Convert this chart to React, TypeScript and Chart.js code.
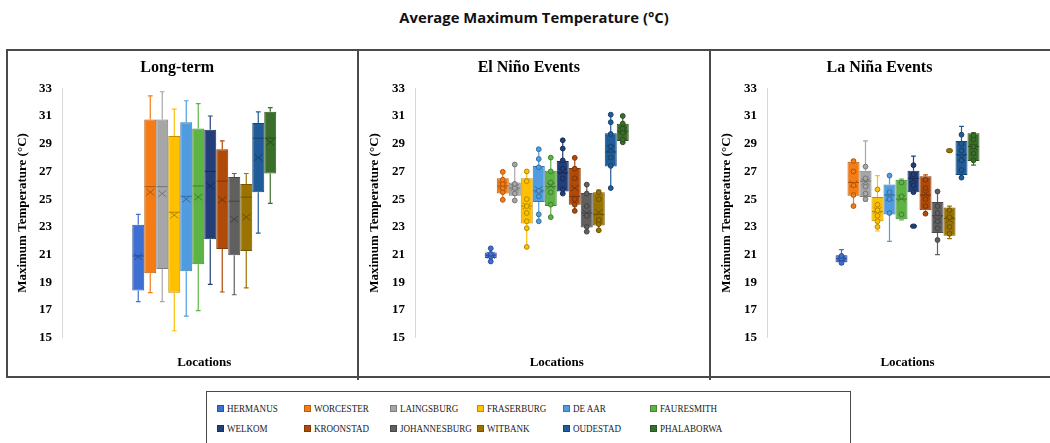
import React, { useEffect, useRef } from "react";
import { Chart, registerables } from "chart.js";

Chart.register(...registerables);

// ---------- data ----------
const LOCATIONS = [
  "HERMANUS", "WORCESTER", "LAINGSBURG", "FRASERBURG", "DE AAR", "FAURESMITH",
  "WELKOM", "KROONSTAD", "JOHANNESBURG", "WITBANK", "OUDESTAD", "PHALABORWA",
];
const COLORS = [
  "#3E6FD2", "#F57C14", "#A6A6A6", "#FFC000", "#4F9DE0", "#5DB445",
  "#223F7A", "#B04A08", "#606060", "#9A7300", "#1F5C99", "#3C6E2B",
];
const Y_TICK_MIN = 15;
const Y_TICK_MAX = 33;
const Y_TICK_STEP = 2;

// Long-term
const LT_MIN = [17.6, 18.25, 17.6, 15.5, 16.55, 16.95, 18.85, 18.3, 18.1, 18.6, 22.55, 24.7];
const LT_Q1 = [18.4, 19.65, 19.95, 18.25, 19.8, 20.3, 22.1, 21.4, 20.95, 21.25, 25.5, 26.85];
const LT_MED = [20.9, 25.9, 25.9, 24.05, 25.2, 25.95, 27.0, 26.3, 24.85, 25.15, 29.4, 29.4];
const LT_Q3 = [23.15, 30.75, 30.75, 29.55, 30.55, 30.1, 30.0, 28.6, 26.6, 26.1, 30.5, 31.3];
const LT_MAX = [23.9, 32.45, 32.75, 31.5, 32.1, 31.9, 31.0, 29.2, 26.85, 26.85, 31.3, 31.6];
const LT_MEAN = [20.85, 25.5, 25.4, 23.85, 25.0, 25.15, 25.95, 24.95, 23.55, 23.7, 28.0, 29.1];

// El Niño events
const EN_MIN = [20.5, 24.95, 24.9, 21.55, 23.4, 23.7, 25.4, 24.15, 22.65, 22.75, 25.8, 29.1];
const EN_Q1 = [20.75, 25.4, 25.25, 23.25, 24.8, 24.5, 25.55, 24.6, 22.95, 23.1, 27.35, 29.2];
const EN_MED = [20.95, 25.95, 25.8, 24.5, 25.6, 25.9, 26.9, 25.2, 24.0, 23.9, 28.4, 29.9];
const EN_Q3 = [21.15, 26.5, 26.2, 26.5, 27.4, 27.05, 27.75, 27.25, 25.45, 25.5, 29.75, 30.45];
const EN_MAX = [21.45, 26.97, 27.5, 27.0, 28.6, 28.0, 29.25, 27.98, 26.05, 25.65, 31.1, 31.0];
const EN_MEAN = [20.95, 26.0, 25.85, 24.5, 25.7, 25.95, 27.0, 25.8, 24.0, 24.05, 28.65, 29.95];
const EN_POINTS = [
  [20.5, 20.85, 21.05, 21.45],
  [24.95, 25.5, 25.8, 26.1, 26.4, 26.97],
  [24.9, 25.4, 25.8, 26.1, 27.5],
  [21.55, 22.9, 23.4, 24.0, 24.5, 25.0, 26.3, 27.0],
  [23.4, 23.9, 25.2, 25.6, 27.3, 27.9, 28.6],
  [23.7, 24.6, 25.5, 26.2, 27.0, 28.0],
  [25.4, 25.7, 26.5, 27.2, 27.8, 28.65, 29.25],
  [24.15, 24.6, 25.0, 26.5, 27.2, 27.98],
  [22.65, 23.0, 23.8, 24.5, 25.4, 26.05],
  [22.75, 23.2, 23.5, 25.0, 25.5],
  [25.8, 27.4, 28.0, 28.8, 29.7, 30.55, 31.1],
  [29.1, 29.3, 29.8, 30.1, 30.45, 31.0],
];
const EN_OUTLIERS: number[][] = [[], [], [], [], [], [], [], [], [], [], [], []];

// La Niña events
const LN_MIN = [20.3, 24.5, 24.85, 22.7, 21.95, 23.5, 25.45, 23.9, 21.0, 22.15, 26.5, 27.45];
const LN_Q1 = [20.45, 25.25, 25.15, 23.4, 23.9, 23.55, 25.5, 24.2, 22.55, 22.35, 26.75, 27.75];
const LN_MED = [20.7, 26.2, 26.3, 24.1, 25.3, 25.0, 26.5, 25.3, 23.8, 23.6, 28.2, 28.8];
const LN_Q3 = [20.95, 27.7, 27.05, 25.15, 26.05, 26.4, 27.05, 26.65, 24.8, 24.4, 29.2, 29.75];
const LN_MAX = [21.35, 27.8, 29.2, 26.7, 26.7, 26.45, 28.1, 26.75, 25.55, 24.5, 30.25, 29.8];
const LN_MEAN = [20.7, 26.1, 26.25, 24.2, 25.1, 25.05, 26.4, 25.4, 23.5, 23.5, 28.0, 28.75];
const LN_POINTS = [
  [20.4, 20.7, 20.9],
  [24.5, 25.3, 26.0, 27.0, 27.75],
  [25.0, 25.4, 25.9, 26.5, 27.35],
  [23.0, 23.4, 23.8, 24.2, 24.6, 25.7],
  [24.0, 25.0, 25.5, 26.7],
  [23.9, 25.2, 26.2],
  [25.5, 26.0, 26.8, 27.45],
  [23.95, 24.5, 25.0, 25.8, 26.4],
  [22.05, 22.9, 23.4, 24.0, 24.5, 25.55],
  [22.5, 23.0, 23.7, 24.2],
  [26.55, 27.1, 27.8, 28.5, 29.0, 29.65],
  [27.8, 28.3, 28.8, 29.3, 29.6],
];
const LN_OUTLIERS = [[], [], [], [], [], [], [23.05], [], [], [28.5], [], []];

// ---------- helpers ----------
const SERIF = '"Liberation Serif", "Times New Roman", serif';

function shade(hex: string, f: number) {
  const n = parseInt(hex.slice(1), 16);
  const r = Math.round(((n >> 16) & 255) * (1 - f));
  const g = Math.round(((n >> 8) & 255) * (1 - f));
  const b = Math.round((n & 255) * (1 - f));
  return `rgb(${r},${g},${b})`;
}

type Stats = {
  min: number[]; q1: number[]; med: number[]; q3: number[]; max: number[]; mean: number[];
  points?: number[][]; outliers?: number[][];
};

type Panel = {
  title: string;
  stats: Stats;
  left: number; width: number; axis: number; plotRight: number; yTitlePad: number;
};

function makeBoxPlugin(s: Stats) {
  return {
    id: "boxExtras",
    beforeDatasetsDraw(chart: any) {
      const ctx = chart.ctx;
      const ys = chart.scales.y;
      chart.data.datasets.forEach((_ds: any, i: number) => {
        const el = chart.getDatasetMeta(i).data[0];
        if (!el) return;
        const x = el.x;
        const w = el.width;
        const yMin = ys.getPixelForValue(s.min[i]);
        const yMax = ys.getPixelForValue(s.max[i]);
        const yQ1 = ys.getPixelForValue(s.q1[i]);
        const yQ3 = ys.getPixelForValue(s.q3[i]);
        const c = w * 0.2;
        ctx.save();
        ctx.strokeStyle = COLORS[i];
        ctx.lineWidth = 1.2;
        ctx.beginPath();
        ctx.moveTo(x, yQ3); ctx.lineTo(x, yMax);
        ctx.moveTo(x, yQ1); ctx.lineTo(x, yMin);
        ctx.moveTo(x - c, yMax); ctx.lineTo(x + c, yMax);
        ctx.moveTo(x - c, yMin); ctx.lineTo(x + c, yMin);
        ctx.stroke();
        ctx.restore();
      });
    },
    afterDatasetsDraw(chart: any) {
      const ctx = chart.ctx;
      const ys = chart.scales.y;
      chart.data.datasets.forEach((_ds: any, i: number) => {
        const el = chart.getDatasetMeta(i).data[0];
        if (!el) return;
        const x = el.x;
        const w = el.width;
        const dark = shade(COLORS[i], 0.3);
        ctx.save();
        ctx.strokeStyle = dark;
        ctx.lineWidth = 1;
        // median
        const yMed = ys.getPixelForValue(s.med[i]);
        ctx.beginPath();
        ctx.moveTo(x - w / 2 + 0.5, yMed);
        ctx.lineTo(x + w / 2 - 0.5, yMed);
        ctx.stroke();
        // mean X
        const yMean = ys.getPixelForValue(s.mean[i]);
        const hx = Math.min(4, w * 0.36);
        const hy = 3.2;
        ctx.beginPath();
        ctx.moveTo(x - hx, yMean - hy); ctx.lineTo(x + hx, yMean + hy);
        ctx.moveTo(x + hx, yMean - hy); ctx.lineTo(x - hx, yMean + hy);
        ctx.stroke();
        // inner points
        const pts = s.points ? s.points[i] : [];
        pts.forEach((v) => {
          const py = ys.getPixelForValue(v);
          ctx.beginPath();
          ctx.arc(x, py, 2.4, 0, Math.PI * 2);
          ctx.fillStyle = COLORS[i];
          ctx.fill();
          ctx.strokeStyle = dark;
          ctx.stroke();
        });
        // outliers
        const outs = s.outliers ? s.outliers[i] : [];
        outs.forEach((v) => {
          const py = ys.getPixelForValue(v);
          ctx.beginPath();
          ctx.ellipse(x, py, 3, 2.2, 0, 0, Math.PI * 2);
          ctx.fillStyle = COLORS[i];
          ctx.fill();
          ctx.strokeStyle = dark;
          ctx.stroke();
        });
        ctx.restore();
      });
    },
  };
}

const CANVAS_TOP = 51;
const CANVAS_H = 327;
const PLOT_TOP = 88.3;
const PLOT_BOTTOM = 337.7;

function buildConfig(p: Panel): any {
  const s = p.stats;
  const axisW = p.axis - p.left;
  const padRight = p.width - (p.plotRight - p.left);
  const plotW = p.plotRight - p.axis;
  const catPct = 144 / plotW;
  const titleSize = 16;
  const titleLH = titleSize * 1.2;
  const titleCenter = 68 - CANVAS_TOP;
  const titlePadTop = titleCenter - titleLH / 2;
  const titlePadBottom = PLOT_TOP - CANVAS_TOP - titlePadTop - titleLH;
  const xAxisH = CANVAS_TOP + CANVAS_H - PLOT_BOTTOM;
  const labelFont = { family: SERIF, size: 13, weight: "bold" as const };
  return {
    type: "bar",
    data: {
      labels: [""],
      datasets: LOCATIONS.map((name, i) => ({
        label: name,
        data: [[s.q1[i], s.q3[i]]],
        backgroundColor: COLORS[i],
        borderColor: shade(COLORS[i], 0.25),
        borderWidth: 1,
        borderSkipped: false,
        categoryPercentage: catPct,
        barPercentage: 1,
      })),
    },
    options: {
      animation: false,
      responsive: false,
      maintainAspectRatio: false,
      events: [],
      layout: { padding: { left: 0, right: padRight, top: 0, bottom: 0 } },
      plugins: {
        legend: { display: false },
        tooltip: { enabled: false },
        title: {
          display: true,
          text: p.title,
          color: "#000",
          font: { family: SERIF, size: titleSize, weight: "bold" },
          padding: { top: titlePadTop, bottom: titlePadBottom },
        },
      },
      scales: {
        x: {
          type: "category",
          grid: { display: false },
          border: { display: false },
          ticks: { display: false },
          title: {
            display: true,
            text: "Locations",
            color: "#000",
            font: labelFont,
            padding: { top: 0, bottom: 7.2 },
          },
          afterFit: (sc: any) => { sc.height = xAxisH; },
        },
        y: {
          type: "linear",
          min: Y_TICK_MIN,
          max: Y_TICK_MAX,
          ticks: { stepSize: Y_TICK_STEP, color: "#000", font: labelFont, padding: 10 },
          grid: { display: false, drawTicks: false },
          border: { display: true, color: "#d9d9d9", width: 1 },
          title: {
            display: true,
            text: "Maximum Temperature (°C)",
            color: "#000",
            font: labelFont,
            padding: { top: p.yTitlePad, bottom: 0 },
          },
          afterFit: (sc: any) => { sc.width = axisW; },
        },
      },
    },
    plugins: [makeBoxPlugin(s)],
  };
}

const PANELS: Panel[] = [
  {
    title: "Long-term",
    stats: { min: LT_MIN, q1: LT_Q1, med: LT_MED, q3: LT_Q3, max: LT_MAX, mean: LT_MEAN },
    left: 8, width: 349, axis: 62, plotRight: 346.5, yTitlePad: 6.5,
  },
  {
    title: "El Niño Events",
    stats: { min: EN_MIN, q1: EN_Q1, med: EN_MED, q3: EN_Q3, max: EN_MAX, mean: EN_MEAN, points: EN_POINTS, outliers: EN_OUTLIERS },
    left: 359, width: 350, axis: 415, plotRight: 698.5, yTitlePad: 8,
  },
  {
    title: "La Niña Events",
    stats: { min: LN_MIN, q1: LN_Q1, med: LN_MED, q3: LN_Q3, max: LN_MAX, mean: LN_MEAN, points: LN_POINTS, outliers: LN_OUTLIERS },
    left: 711, width: 350, axis: 767, plotRight: 1048, yTitlePad: 8,
  },
];

function BoxChart({ panel }: { panel: Panel }) {
  const ref = useRef<HTMLCanvasElement>(null);
  useEffect(() => {
    if (!ref.current) return;
    const chart = new Chart(ref.current, buildConfig(panel));
    return () => chart.destroy();
  }, [panel]);
  return (
    <canvas
      ref={ref}
      width={panel.width}
      height={CANVAS_H}
      style={{ position: "absolute", left: panel.left, top: CANVAS_TOP, width: panel.width, height: CANVAS_H }}
    />
  );
}

const BORDER = "#4a4a4a";

export default function App() {
  return (
    <div
      style={{
        position: "fixed", left: 0, top: 0, width: 1050, height: 443,
        overflow: "hidden", background: "#fff",
      }}
    >
      <div
        style={{
          position: "absolute", left: 0, top: 7, width: 1068, textAlign: "center",
          fontFamily: '"Open Sans", Lato, sans-serif', fontWeight: 700, fontSize: 14.8,
          color: "#111", lineHeight: "20px",
        }}
      >
        Average Maximum Temperature (°C)
      </div>
      {/* panel frame */}
      <div
        style={{
          position: "absolute", left: 6, top: 49, width: 1062, height: 329,
          border: `2px solid ${BORDER}`, boxSizing: "border-box",
        }}
      />
      <div style={{ position: "absolute", left: 357, top: 49, width: 2, height: 331, background: BORDER }} />
      <div style={{ position: "absolute", left: 709, top: 49, width: 2, height: 331, background: BORDER }} />
      {PANELS.map((p) => (
        <BoxChart key={p.title} panel={p} />
      ))}
      {/* legend */}
      <div
        style={{
          position: "absolute", left: 206, top: 391, width: 645, height: 56,
          border: `1.5px solid ${BORDER}`, boxSizing: "border-box",
        }}
      />
      {LOCATIONS.map((name, i) => {
        const col = i % 6;
        const row = Math.floor(i / 6);
        const x = 217 + col * 86.6;
        const y = 408.5 + row * 20;
        return (
          <React.Fragment key={name}>
            <div
              style={{
                position: "absolute", left: x, top: y - 3.5, width: 7, height: 7,
                background: COLORS[i], border: `0.5px solid ${shade(COLORS[i], 0.25)}`, boxSizing: "border-box",
              }}
            />
            <div
              style={{
                position: "absolute", left: x + 10, top: y - 7, height: 14, lineHeight: "14px",
                fontFamily: SERIF, fontSize: 10.5, color: "#1a1a1a", whiteSpace: "nowrap",
                transform: "scaleX(0.86)", transformOrigin: "left center",
              }}
            >
              {name}
            </div>
          </React.Fragment>
        );
      })}
    </div>
  );
}
